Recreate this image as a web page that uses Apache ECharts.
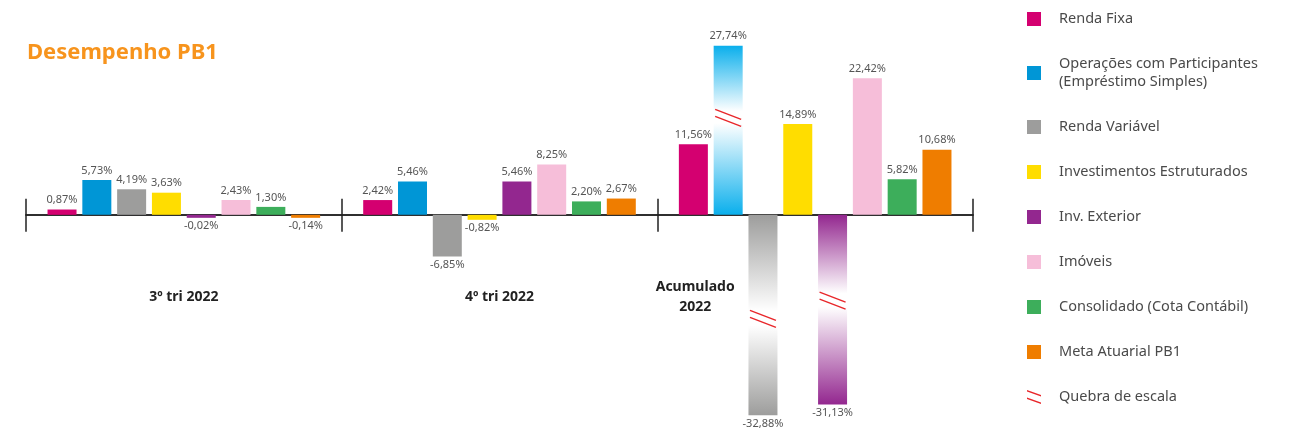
<!DOCTYPE html>
<html>
<head>
<meta charset="utf-8">
<script src="https://cdn.jsdelivr.net/npm/echarts@6/dist/echarts.min.js"></script>
<style>
  html, body { margin: 0; background: #fff; }
  #chart { width: 1291px; height: 433px; }
</style>
</head>
<body>
<div id="chart"></div>
<script>
// Desempenho PB1 – rentabilidade por segmento (%)
const categories = ['3º tri 2022', '4º tri 2022', 'Acumulado\n2022'];
const seriesNames = [
  'Renda Fixa',
  'Operações com Participantes (Empréstimo Simples)',
  'Renda Variável',
  'Investimentos Estruturados',
  'Inv. Exterior',
  'Imóveis',
  'Consolidado (Cota Contábil)',
  'Meta Atuarial PB1',
];
const seriesColors = ['#D40070', '#0096D6', '#9D9D9C', '#FFDD00', '#93278F', '#F6BED9', '#3DAE5B', '#EF7D00'];

const rendaFixa = [0.87, 2.42, 11.56];
const operacoes = [5.73, 5.46, 27.74];
const rendaVariavel = [4.19, -6.85, -32.88];
const investEstruturados = [3.63, -0.82, 14.89];
const invExterior = [-0.02, 5.46, -31.13];
const imoveis = [2.43, 8.25, 22.42];
const consolidado = [1.30, 2.20, 5.82];
const metaAtuarial = [-0.14, 2.67, 10.68];
const seriesValues = [rendaFixa, operacoes, rendaVariavel, investEstruturados, invExterior, imoveis, consolidado, metaAtuarial];

// quebra de escala: [categoria, índice da série, valor onde a barra é cortada]
const scaleBreaks = [[2, 1, 16], [2, 2, -17], [2, 4, -14]];
const breakName = 'Quebra de escala';

const BAR_W = 29;
const BAR_GAP = 0.2; // fração da largura da barra
const FONT = '"Noto Sans", sans-serif';
const Y_MIN = -34;
const Y_MAX = 30;

const chart = echarts.init(document.getElementById('chart'));

const fmt = (v) => v.toFixed(2).replace('.', ',') + '%';

// gradiente com faixa branca na altura da quebra (f = fração a partir do topo)
function breakGradient(color, f) {
  return new echarts.graphic.LinearGradient(0, 0, 0, 1, [
    { offset: 0, color: color },
    { offset: Math.max(0, f - 0.035), color: '#ffffff' },
    { offset: Math.min(1, f + 0.035), color: '#ffffff' },
    { offset: 1, color: color },
  ]);
}

function buildSeries() {
  const bars = seriesNames.map((name, si) => ({
    name,
    type: 'bar',
    barWidth: BAR_W,
    barGap: BAR_GAP * 100 + '%',
    barMinHeight: 3,
    itemStyle: { color: seriesColors[si] },
    label: {
      show: true,
      position: 'top',
      distance: 4,
      fontFamily: FONT,
      fontSize: 11,
      color: '#555',
      formatter: (p) => fmt(p.value),
    },
    data: seriesValues[si].map((v, ci) => {
      const item = { value: v };
      if (v < 0) item.label = { position: 'bottom', distance: 3 };
      const br = scaleBreaks.find((b) => b[0] === ci && b[1] === si);
      if (br) {
        // fração medida a partir do topo do retângulo
        const f = v > 0 ? (v - br[2]) / v : br[2] / v;
        const c = si === 1 ? '#0AAFEC' : seriesColors[si];
        item.itemStyle = { color: breakGradient(c, f) };
      }
      return item;
    }),
  }));

  bars.push({
    name: breakName,
    type: 'custom',
    z: 5,
    itemStyle: { color: '#E8262A' },
    encode: { x: 0, y: 2 },
    data: scaleBreaks,
    renderItem: (params, api) => {
      const idx = api.value(1);
      const p = api.coord([api.value(0), api.value(2)]);
      const x = p[0] + (idx - 3.5) * BAR_W * (1 + BAR_GAP);
      const y = p[1];
      const style = { stroke: '#E8262A', lineWidth: 1.4 };
      return {
        type: 'group',
        children: [
          { type: 'line', shape: { x1: x - 13, y1: y - 8, x2: x + 13, y2: y + 2 }, style },
          { type: 'line', shape: { x1: x - 13, y1: y - 1, x2: x + 13, y2: y + 9 }, style },
        ],
      };
    },
  });
  return bars;
}

const axisColor = '#222';
const gridBox = { left: 26, right: 318, top: 32, bottom: 11, outerBoundsMode: 'none' };

const option = {
  animation: false,
  backgroundColor: '#fff',
  textStyle: { fontFamily: FONT },
  title: {
    text: 'Desempenho PB1',
    left: 27,
    top: 42,
    padding: 0,
    textStyle: { fontFamily: FONT, fontSize: 22, fontWeight: 'bold', color: '#F7941D' },
  },
  legend: {
    orient: 'vertical',
    left: 1027,
    top: 10,
    padding: 0,
    itemWidth: 14,
    itemHeight: 14,
    itemGap: 27,
    icon: 'rect',
    textStyle: { fontFamily: FONT, fontSize: 14.5, color: '#4a4a4a', lineHeight: 18, padding: [0, 0, 0, 13] },
    formatter: (name) => name.replace(' (Emp', '\n(Emp'),
    data: seriesNames.concat([{
      name: breakName,
      icon: 'path://M0,0 L14,5 L14,6.6 L0,1.6 Z M0,7.4 L14,12.4 L14,14 L0,9 Z',
    }]),
  },
  // grid 0: barras; grid 1 (mesma área): traços para cima e rótulos das categorias
  grid: [Object.assign({}, gridBox), Object.assign({}, gridBox)],
  xAxis: [
    {
      gridIndex: 0,
      type: 'category',
      data: categories,
      position: 'bottom',
      axisLine: { show: true, onZero: true, lineStyle: { color: axisColor, width: 1.5 } },
      axisTick: { show: true, length: 17, lineStyle: { color: axisColor, width: 1.5 } },
      axisLabel: { show: false },
    },
    {
      gridIndex: 1,
      type: 'category',
      data: categories,
      position: 'top',
      axisLine: { show: true, onZero: true, lineStyle: { color: axisColor, width: 1.5 } },
      axisTick: { show: true, length: 16, lineStyle: { color: axisColor, width: 1.5 } },
      axisLabel: { show: false },
    },
    {
      gridIndex: 1,
      type: 'category',
      data: categories,
      position: 'bottom',
      axisLine: { show: false, onZero: false },
      axisTick: { show: false },
      axisLabel: {
        interval: 0,
        margin: -125,
        verticalAlign: 'middle',
        formatter: (v) => v.startsWith('Acumulado')
          ? v.split('\n').map((s) => '{acc|' + s + '}').join('\n')
          : '{cat|' + v + '}',
        rich: {
          cat: { fontFamily: FONT, fontSize: 14, fontWeight: 'bold', color: '#222', lineHeight: 20 },
          acc: { fontFamily: FONT, fontSize: 14, fontWeight: 'bold', color: '#222', lineHeight: 20, padding: [0, 240, 0, 0] },
        },
      },
    },
  ],
  yAxis: [
    { gridIndex: 0, type: 'value', min: Y_MIN, max: Y_MAX, show: false },
    { gridIndex: 1, type: 'value', min: Y_MIN, max: Y_MAX, show: false },
  ],
  series: buildSeries(),
};

chart.setOption(option);
</script>
</body>
</html>
